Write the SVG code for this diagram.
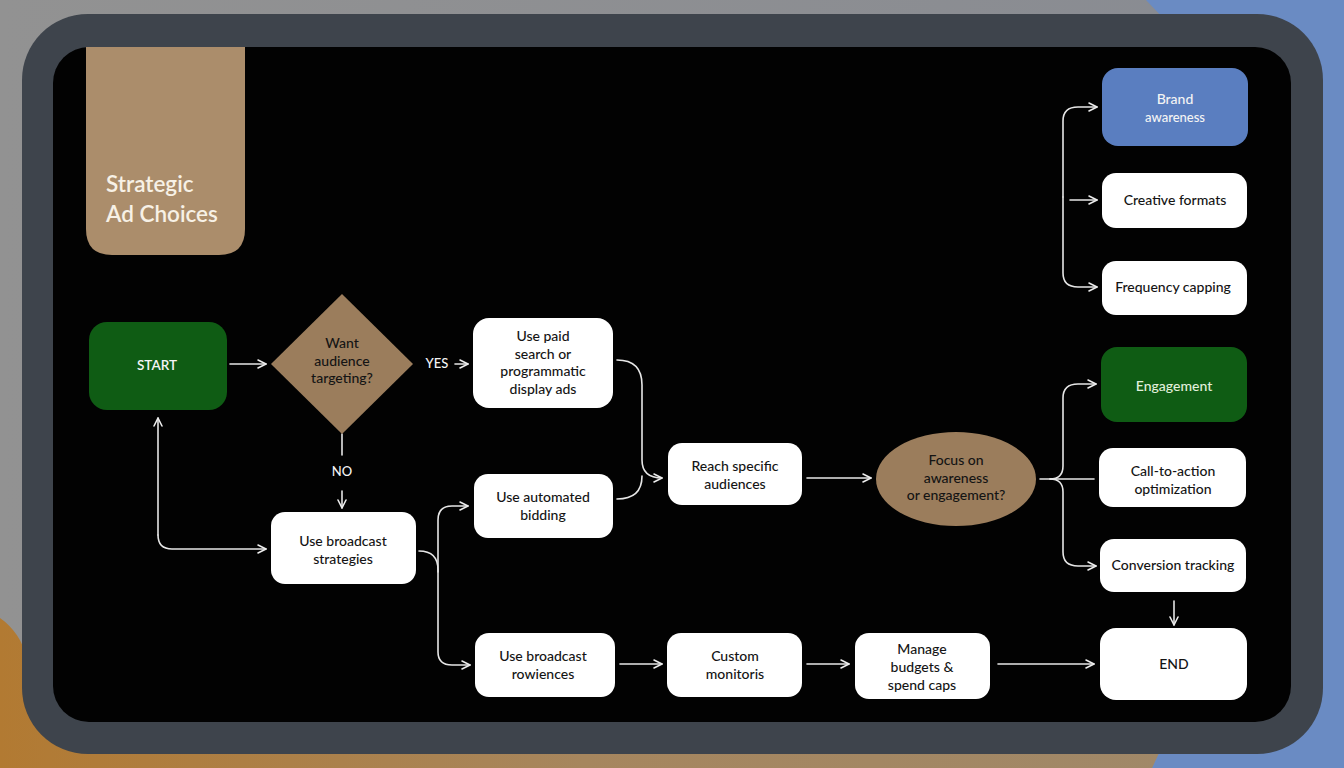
<svg xmlns="http://www.w3.org/2000/svg" width="1344" height="768" viewBox="0 0 1344 768">
<defs>
<linearGradient id="bgGray" x1="0" y1="0" x2="1" y2="0">
<stop offset="0" stop-color="#929292"/><stop offset="1" stop-color="#888b92"/>
</linearGradient>
<linearGradient id="bgOrange" x1="0" y1="0" x2="1" y2="0">
<stop offset="0" stop-color="#b27a32"/><stop offset="0.5" stop-color="#a6865e"/><stop offset="1" stop-color="#a08868"/>
</linearGradient>
<marker id="arr" viewBox="0 0 10 10" refX="9" refY="5" markerWidth="10" markerHeight="10" markerUnits="userSpaceOnUse" orient="auto">
<path d="M1,1 L9,5 L1,9" fill="none" stroke="#ececec" stroke-width="1.6" stroke-linecap="round" stroke-linejoin="round"/>
</marker>
<style>
.con{fill:none;stroke:#e6e6e6;stroke-width:1.6;stroke-linecap:round}
.box{fill:#ffffff}
.t{font-family:Lato,"Open Sans","Liberation Sans",sans-serif;font-size:14px;font-weight:500;fill:#141414;text-anchor:middle}
.tw{fill:#f4f4f4}
.tan{fill:#9b7d5c}
</style>
</defs>
<rect width="1344" height="768" fill="url(#bgGray)"/>
<path d="M1146,0 L1344,0 L1344,768 L1152,768 L1165,740 L1165,20 Z" fill="#6a8bc3"/>
<path d="M0,618 C14,628 22,640 28,660 L1165,660 L1165,740 L1152,768 L0,768 Z" fill="url(#bgOrange)"/>
<rect x="22" y="14" width="1301" height="740" rx="66" fill="#3e444c"/>
<rect x="53" y="47" width="1238" height="675" rx="36" fill="#020202"/>

<g id="title">
<path d="M86,47 L245,47 L245,229 Q245,255 219,255 L112,255 Q86,255 86,229 Z" fill="#ab8d6b"/>
<text x="106" y="192" font-family="Lato,'Open Sans','Liberation Sans',sans-serif" font-size="22.5" font-weight="600" fill="#f7f1e6">Strategic</text>
<text x="106" y="222" font-family="Lato,'Open Sans','Liberation Sans',sans-serif" font-size="22.5" font-weight="600" fill="#f7f1e6">Ad Choices</text>
</g>

<g id="connectors">
<path class="con" d="M230,364 L266,364" marker-end="url(#arr)"/>
<text class="t tw" x="437" y="368" style="font-size:13px">YES</text>
<path class="con" d="M455,364 L468,364" marker-end="url(#arr)"/>
<path class="con" d="M342,434 L342,455"/>
<text class="t tw" x="342" y="476" style="font-size:13px">NO</text>
<path class="con" d="M342,491 L342,508" marker-end="url(#arr)"/>
<path class="con" d="M158,535 L158,418" marker-end="url(#arr)"/>
<path class="con" d="M158,535 Q158,549 172,549 L266,549" marker-end="url(#arr)"/>
<path class="con" d="M419,551 Q438,551 438,570 L438,652 Q438,665 452,665 L470,665" marker-end="url(#arr)"/>
<path class="con" d="M438,572 L438,520 Q438,506 452,506 L468,506" marker-end="url(#arr)"/>
<path class="con" d="M617,360 Q642,360 642,385 L642,460 Q642,478 662,478" marker-end="url(#arr)"/>
<path class="con" d="M617,499 Q642,499 642,476"/>
<path class="con" d="M807,478 L871,478" marker-end="url(#arr)"/>
<path class="con" d="M1040,479 L1094,479"/>
<path class="con" d="M1050,479 Q1063,479 1063,466 L1063,398 Q1063,384 1078,384 L1096,384" marker-end="url(#arr)"/>
<path class="con" d="M1050,479 Q1063,479 1063,492 L1063,552 Q1063,566 1078,566 L1096,566" marker-end="url(#arr)"/>
<path class="con" d="M1063,197 L1063,121 Q1063,107 1078,107 L1097,107" marker-end="url(#arr)"/>
<path class="con" d="M1063,197 L1063,273 Q1063,287 1078,287 L1097,287" marker-end="url(#arr)"/>
<path class="con" d="M1070,200 L1097,200" marker-end="url(#arr)"/>
<path class="con" d="M1174,601 L1174,625" marker-end="url(#arr)"/>
<path class="con" d="M620,664 L662,664" marker-end="url(#arr)"/>
<path class="con" d="M807,664 L849,664" marker-end="url(#arr)"/>
<path class="con" d="M998,664 L1094,664" marker-end="url(#arr)"/>
</g>

<g id="start">
<rect x="89" y="322" width="138" height="88" rx="18" fill="#0f5c14"/>
<text class="t tw" x="157" y="370" style="font-weight:600;font-size:13.5px">START</text>
</g>

<g id="decision-targeting">
<polygon class="tan" points="342,294 413,364 342,434 271,364"/>
<text class="t" x="342" y="348">Want</text>
<text class="t" x="342" y="366">audience</text>
<text class="t" x="342" y="383">targeting?</text>
</g>

<g id="paid-search">
<rect class="box" x="473" y="318" width="140" height="90" rx="16"/>
<text class="t" x="543" y="341">Use paid</text>
<text class="t" x="543" y="359">search or</text>
<text class="t" x="543" y="376">programmatic</text>
<text class="t" x="543" y="394">display ads</text>
</g>

<g id="broadcast-strategies">
<rect class="box" x="271" y="512" width="145" height="72" rx="14"/>
<text class="t" x="343" y="546">Use broadcast</text>
<text class="t" x="343" y="564">strategies</text>
</g>

<g id="automated-bidding">
<rect class="box" x="474" y="474" width="139" height="64" rx="14"/>
<text class="t" x="543" y="502">Use automated</text>
<text class="t" x="543" y="520">bidding</text>
</g>

<g id="reach-audiences">
<rect class="box" x="668" y="443" width="134" height="62" rx="14"/>
<text class="t" x="735" y="471">Reach specific</text>
<text class="t" x="735" y="489">audiences</text>
</g>

<g id="decision-focus">
<ellipse class="tan" cx="956" cy="479" rx="80" ry="47"/>
<text class="t" x="956" y="465">Focus on</text>
<text class="t" x="956" y="483">awareness</text>
<text class="t" x="956" y="500">or engagement?</text>
</g>

<g id="brand-awareness">
<rect x="1102" y="68" width="146" height="78" rx="16" fill="#5a7ec0"/>
<text class="t tw" x="1175" y="104">Brand</text>
<text class="t tw" x="1175" y="122" style="font-size:13px">awareness</text>
</g>

<g id="creative-formats">
<rect class="box" x="1102" y="173" width="145" height="55" rx="14"/>
<text class="t" x="1175" y="205">Creative formats</text>
</g>

<g id="frequency-capping">
<rect class="box" x="1102" y="261" width="145" height="54" rx="14"/>
<text class="t" x="1173" y="292">Frequency capping</text>
</g>

<g id="engagement">
<rect x="1101" y="347" width="146" height="75" rx="16" fill="#0f5c14"/>
<text class="t" x="1174" y="391" style="fill:#e2f0dc">Engagement</text>
</g>

<g id="cta-optimization">
<rect class="box" x="1099" y="448" width="147" height="59" rx="14"/>
<text class="t" x="1173" y="476">Call-to-action</text>
<text class="t" x="1173" y="494">optimization</text>
</g>

<g id="conversion-tracking">
<rect class="box" x="1100" y="539" width="146" height="53" rx="14"/>
<text class="t" x="1173" y="570">Conversion tracking</text>
</g>

<g id="end">
<rect class="box" x="1100" y="628" width="147" height="72" rx="16"/>
<text class="t" x="1174" y="669">END</text>
</g>

<g id="broadcast-rowiences">
<rect class="box" x="475" y="633" width="140" height="64" rx="14"/>
<text class="t" x="543" y="661">Use broadcast</text>
<text class="t" x="543" y="679">rowiences</text>
</g>

<g id="custom-monitoris">
<rect class="box" x="667" y="633" width="135" height="64" rx="14"/>
<text class="t" x="735" y="661">Custom</text>
<text class="t" x="735" y="679">monitoris</text>
</g>

<g id="manage-budgets">
<rect class="box" x="855" y="633" width="135" height="66" rx="14"/>
<text class="t" x="922" y="654">Manage</text>
<text class="t" x="922" y="672">budgets &amp;</text>
<text class="t" x="922" y="690">spend caps</text>
</g>
</svg>
